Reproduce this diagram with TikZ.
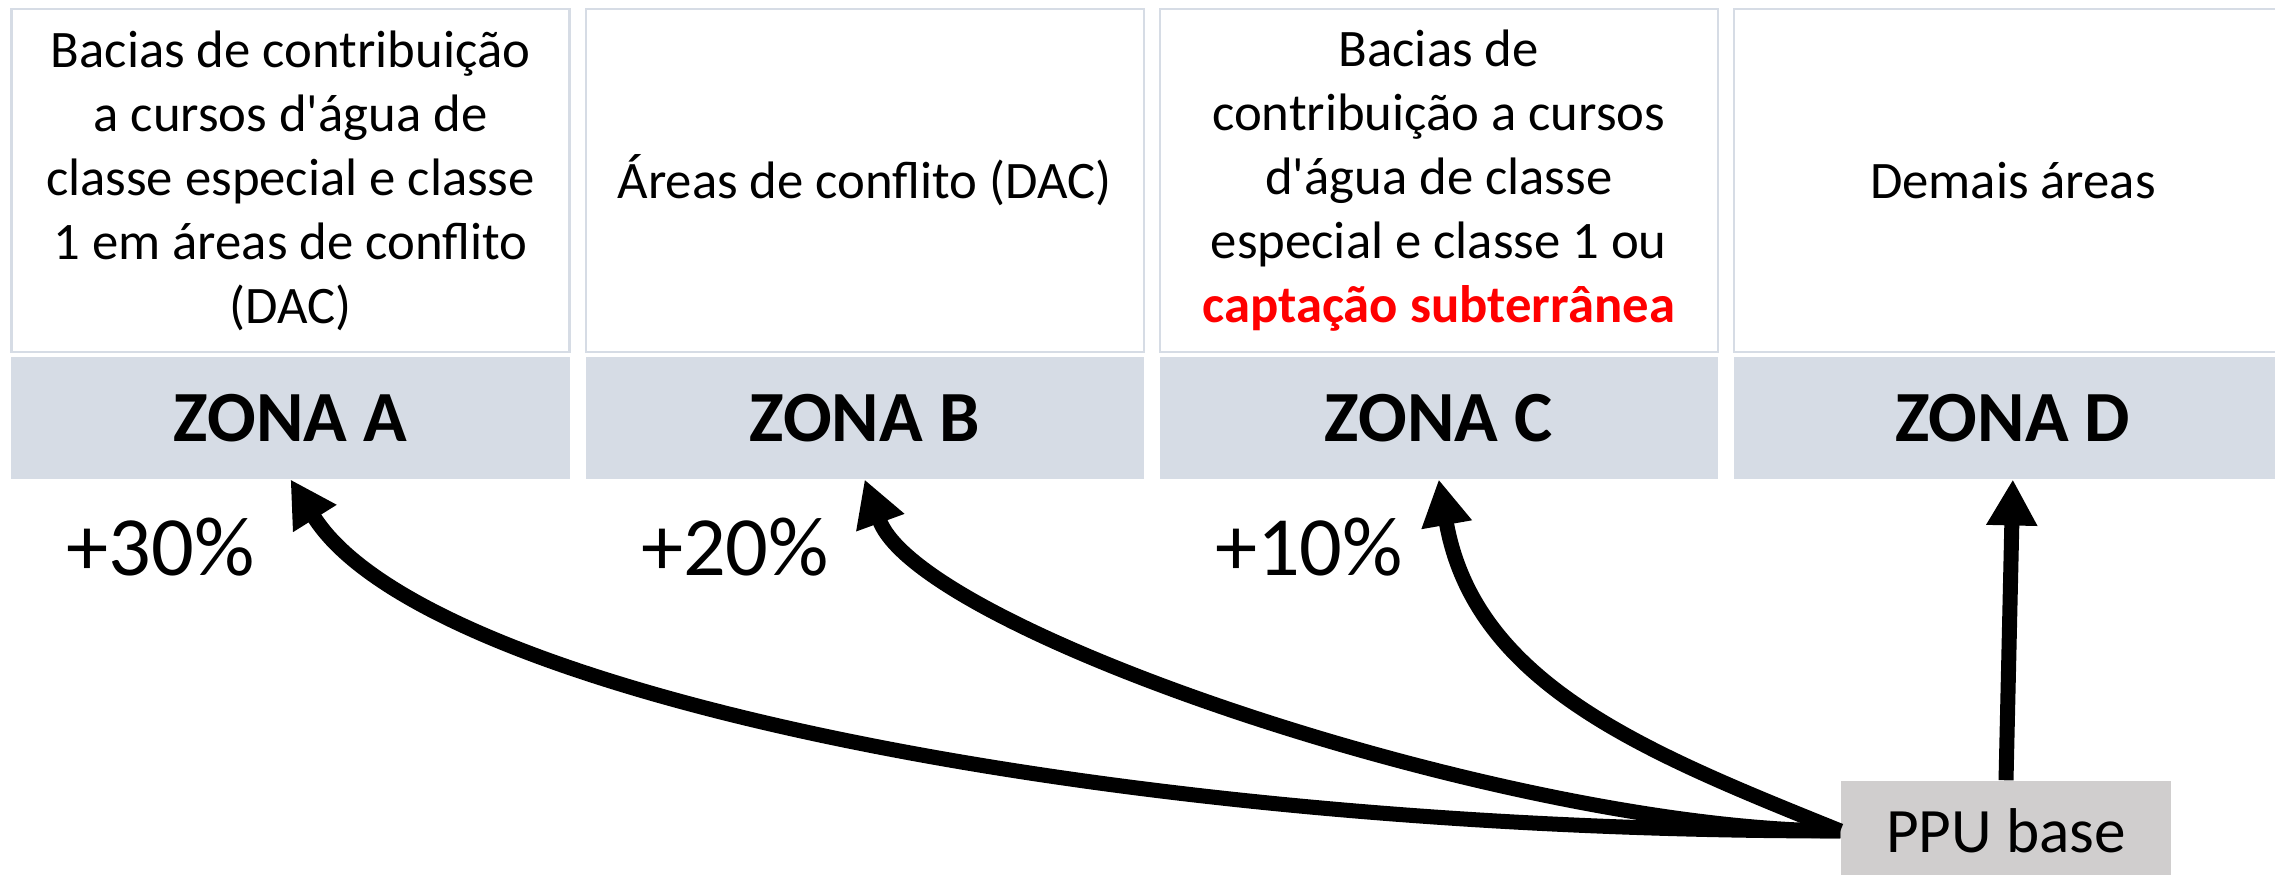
\documentclass[tikz,border=0pt]{standalone}
\usepackage{fontspec}
\setmainfont{Carlito}
\usepackage{tikz}
\usetikzlibrary{positioning}
\usetikzlibrary{arrows.meta}
\definecolor{zonefill}{HTML}{D6DCE5}
\definecolor{descline}{HTML}{D6DCE5}
\definecolor{ppufill}{HTML}{D0CECE}
\tikzset{
  desc/.style={draw=descline, line width=0.6pt, fill=white, minimum width=5.58cm, minimum height=3.43cm, inner sep=0pt, align=center, font=\fontsize{15}{18.2}\selectfont},
  zone/.style={fill=zonefill, minimum width=5.58cm, minimum height=1.22cm, inner sep=0pt, font=\fontsize{20.5}{24}\selectfont\bfseries},
  pct/.style={anchor=east, inner sep=0pt, font=\fontsize{24}{28}\selectfont},
  rise/.style={line width=0.15cm, -{Triangle[length=0.46cm,width=0.48cm]}}
}
\begin{document}
\begin{tikzpicture}
  \clip (0,0) rectangle (22.75,8.75);
  \node[desc] (dA) at (2.905,6.945) {Bacias de contribuição\\a cursos d\textquotesingle água de\\classe especial e classe\\1 em áreas de conflito\\(DAC)};
  \node[desc, right=0.14cm of dA] (dB) {Áreas de conflito (DAC)};
  \node[desc, right=0.14cm of dB] (dC) {Bacias de\\contribuição a cursos\\d\textquotesingle água de classe\\especial e classe 1 ou\\\textcolor{red}{\bfseries captação subterrânea}};
  \node[desc, right=0.14cm of dC] (dD) {Demais áreas};
  \node[zone, below=0.03cm of dA] (zA) {ZONA A};
  \node[zone, below=0.03cm of dB] (zB) {ZONA B};
  \node[zone, below=0.03cm of dC] (zC) {ZONA C};
  \node[zone, below=0.03cm of dD] (zD) {ZONA D};
  \node[pct] (pA) at ([xshift=-0.35cm,yshift=-0.68cm]zA.south) {+30\%};
  \node[pct] (pB) at ([xshift=-0.35cm,yshift=-0.68cm]zB.south) {+20\%};
  \node[pct] (pC) at ([xshift=-0.35cm,yshift=-0.68cm]zC.south) {+10\%};
  \node[fill=ppufill, minimum width=3.30cm, minimum height=1.0cm, inner sep=0pt, font=\fontsize{18}{21}\selectfont] (ppu) at (20.06,0.44) {PPU base};
  \draw[rise] (ppu.west) to[out=180, in=-58, out looseness=1.2, in looseness=0.4] (zA.south);
  \draw[rise] (ppu.west) to[out=180, in=-70, out looseness=0.8, in looseness=0.4] (zB.south);
  \draw[rise] (ppu.west) to[out=158, in=-80] (zC.south);
  \draw[rise] (ppu.north) -- (zD.south);
\end{tikzpicture}
\end{document}
